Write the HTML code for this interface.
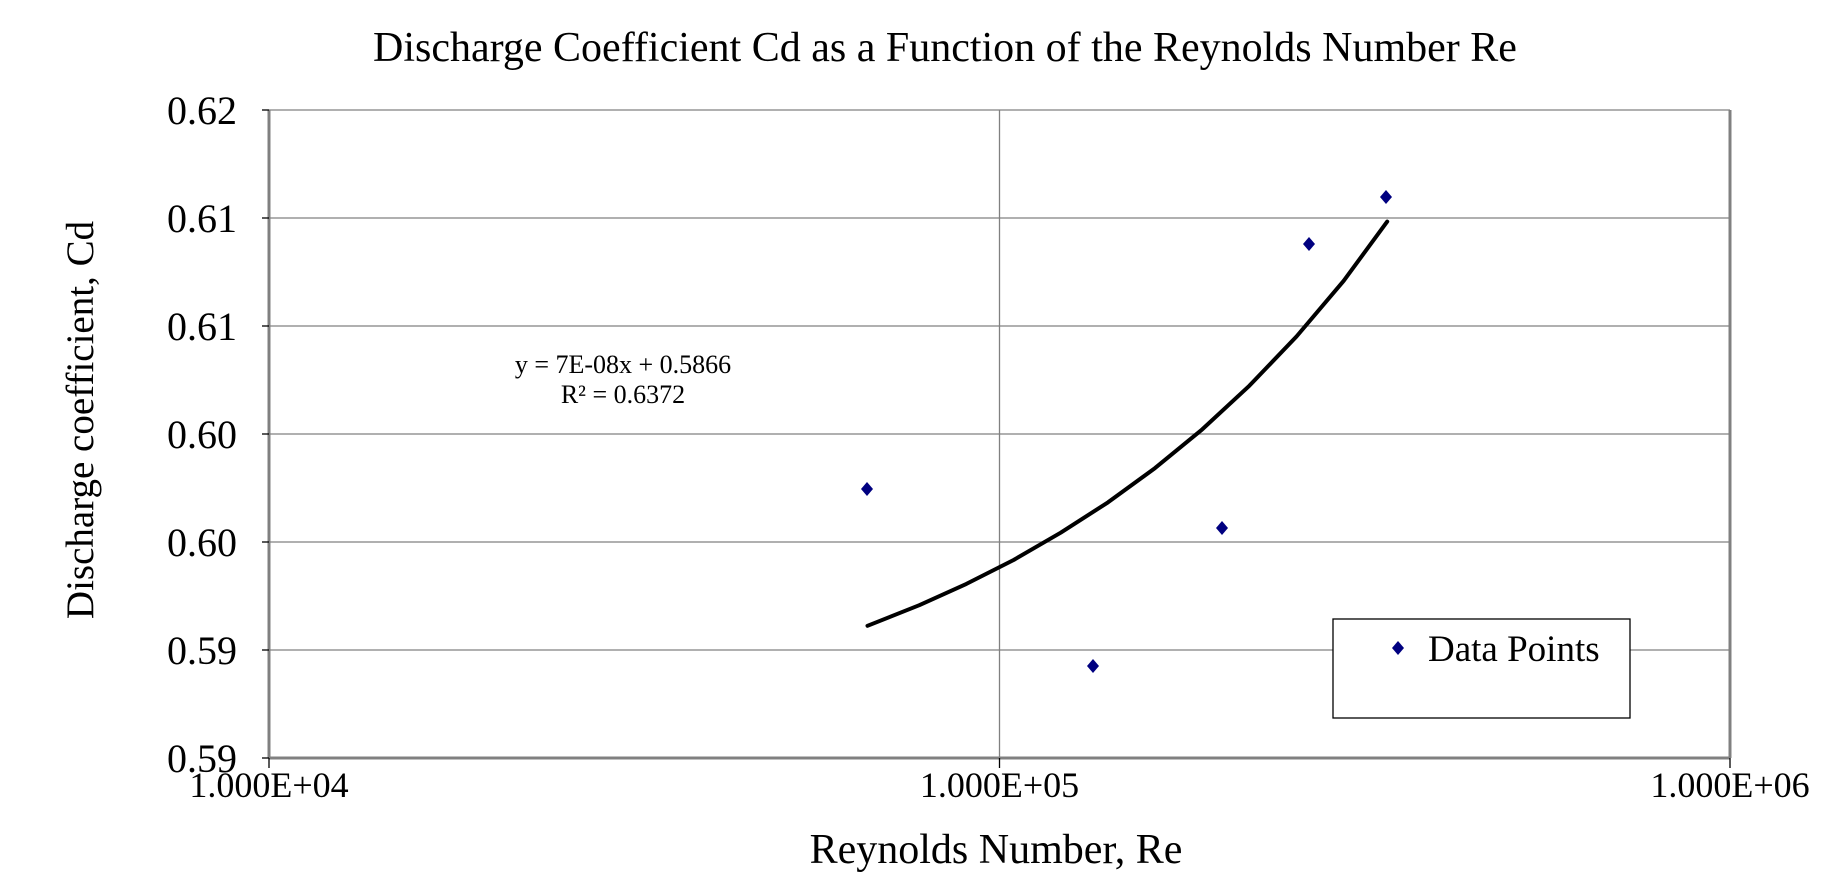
<!DOCTYPE html>
<html><head><style>body{margin:0;background:#fff}</style></head><body>
<svg width="1848" height="878" xmlns="http://www.w3.org/2000/svg" font-family="Liberation Serif, serif">
<rect width="1848" height="878" fill="#fff"/>
<text x="945" y="61" font-size="42" text-anchor="middle">Discharge Coefficient Cd as a Function of the Reynolds Number Re</text>
<g stroke="#808080" stroke-width="1.3">
<line x1="269" y1="110" x2="1730" y2="110"/>
<line x1="269" y1="218" x2="1730" y2="218"/>
<line x1="269" y1="326" x2="1730" y2="326"/>
<line x1="269" y1="434" x2="1730" y2="434"/>
<line x1="269" y1="542" x2="1730" y2="542"/>
<line x1="269" y1="650" x2="1730" y2="650"/>
<line x1="999.5" y1="110" x2="999.5" y2="758"/>
</g>
<g stroke="#808080" stroke-width="3">
<line x1="269" y1="110" x2="269" y2="758"/>
<line x1="1730" y1="110" x2="1730" y2="758"/>
<line x1="269" y1="758" x2="1730" y2="758"/>
</g>
<g stroke="#000" stroke-width="1.3">
<line x1="262" y1="110" x2="269" y2="110"/><line x1="262" y1="218" x2="269" y2="218"/>
<line x1="262" y1="326" x2="269" y2="326"/><line x1="262" y1="434" x2="269" y2="434"/>
<line x1="262" y1="542" x2="269" y2="542"/><line x1="262" y1="650" x2="269" y2="650"/>
<line x1="262" y1="758" x2="269" y2="758"/>
<line x1="269" y1="758" x2="269" y2="768"/><line x1="999.5" y1="758" x2="999.5" y2="768"/><line x1="1730" y1="758" x2="1730" y2="768"/>
</g>
<g font-size="40" text-anchor="end">
<text x="237" y="124">0.62</text><text x="237" y="232">0.61</text><text x="237" y="340">0.61</text>
<text x="237" y="448">0.60</text><text x="237" y="556">0.60</text><text x="237" y="664">0.59</text><text x="237" y="772">0.59</text>
</g>
<g font-size="36" text-anchor="middle">
<text x="269" y="797">1.000E+04</text><text x="999.5" y="797">1.000E+05</text><text x="1730" y="797">1.000E+06</text>
</g>
<text x="996" y="863" font-size="42" text-anchor="middle">Reynolds Number, Re</text>
<text transform="translate(93,420) rotate(-90)" font-size="39" text-anchor="middle">Discharge coefficient, Cd</text>
<polyline points="867.5,625.8 919.3,605.2 966.4,583.9 1013.6,560 1060.7,532.7 1107.9,502.4 1155,468.1 1202.2,429.4 1249.3,385.8 1296.5,336.5 1343.6,280.9 1387.2,221.6" fill="none" stroke="#000" stroke-width="4" stroke-linecap="round" stroke-linejoin="round"/>
<g fill="#000080">
<path d="M867,482 l6,7 l-6,7 l-6,-7z"/>
<path d="M1093,659 l6,7 l-6,7 l-6,-7z"/>
<path d="M1222,521 l6,7 l-6,7 l-6,-7z"/>
<path d="M1309,237 l6,7 l-6,7 l-6,-7z"/>
<path d="M1386,190 l6,7 l-6,7 l-6,-7z"/>
</g>
<text x="623" y="373" font-size="26" text-anchor="middle">y = 7E-08x + 0.5866</text>
<text x="623" y="403" font-size="26" text-anchor="middle">R² = 0.6372</text>
<rect x="1333" y="619" width="297" height="99" fill="#fff" stroke="#000" stroke-width="1.3"/>
<path d="M1398,641 l6,7 l-6,7 l-6,-7z" fill="#000080"/>
<text x="1428" y="661" font-size="37">Data Points</text>
</svg>
</body></html>
